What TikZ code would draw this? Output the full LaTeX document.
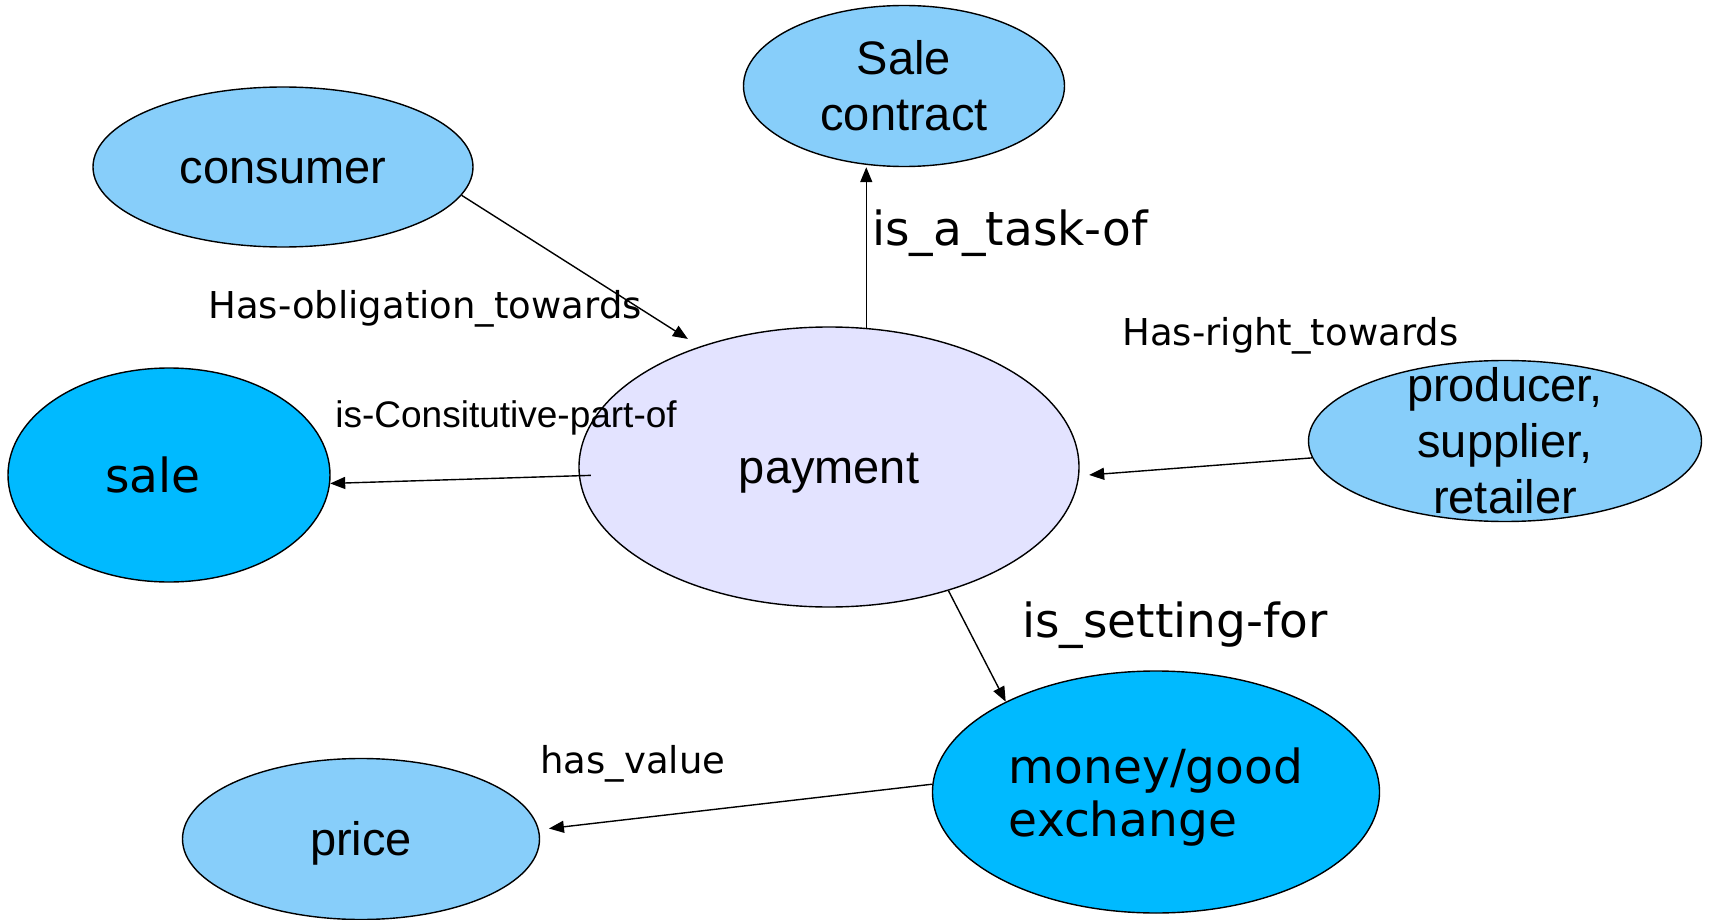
\documentclass[tikz,border=0pt]{standalone}
\usepackage{fontspec}
\setmainfont{Liberation Sans}
\newfontfamily\dejavu{DejaVu Sans}
\usetikzlibrary{arrows.meta,shapes.geometric}

\definecolor{entlight}{HTML}{87CEFA}
\definecolor{entdark}{HTML}{00BAFF}
\definecolor{entpay}{HTML}{E3E3FF}

\begin{document}
\begin{tikzpicture}[x=0.5pt, y=-0.5pt,
  ent/.style={ellipse, draw, line width=0.7pt, inner sep=0pt, align=center, font=\fontsize{23.5}{28}\selectfont},
  oneline/.style={text height=21.3pt, text depth=5pt},
  rel/.style={anchor=base west, inner sep=0pt, font=\dejavu\fontsize{18.5}{22}\selectfont},
  arr/.style={-{Triangle[length=7.5pt,width=6pt]}, line width=0.7pt}]
\useasboundingbox (0,0) rectangle (1710,920);

\node[ent, fill=entlight, minimum width=160.5pt, minimum height=80.5pt] (contract) at (904,86) {Sale\\contract};
\node[ent, oneline, fill=entlight, minimum width=190pt, minimum height=80pt] (consumer) at (283,167) {consumer};
\node[ent, fill=entdark, minimum width=161pt, minimum height=107pt, text width=64pt, align=left, font=\dejavu\fontsize{23.5}{28}\selectfont] (sale) at (169,475) {sale};
\node[ent, oneline, fill=entpay, minimum width=250pt, minimum height=140pt] (payment) at (829,467) {payment};
\node[ent, fill=entlight, minimum width=196.5pt, minimum height=80.5pt, inner ysep=-9pt] (producer) at (1505,441) {producer,\\supplier,\\retailer};
\node[ent, fill=entdark, minimum width=223.5pt, minimum height=121pt, text depth=0pt, align=left, font=\dejavu\fontsize{23.5}{26.5}\selectfont] (exchange) at (1156,792) {money/good\\exchange};
\node[ent, oneline, fill=entlight, minimum width=178.5pt, minimum height=80.5pt] (price) at (361,839) {price};

\node[rel] (lobl) at (208,318) {Has-obligation\_towards};
\node[rel, font=\fontsize{18.5}{22}\selectfont] (lcons) at (335,427) {is-Consitutive-part-of};
\node[rel, font=\dejavu\fontsize{23.5}{28}\selectfont] (ltask) at (872,245) {is\_a\_task-of};
\node[rel] (lright) at (1122,345) {Has-right\_towards};
\node[rel, font=\dejavu\fontsize{23.5}{28}\selectfont] (lset) at (1022,637) {is\_setting-for};
\node[rel] (lval) at (540,773) {has\_value};

\draw[arr, shorten >=7pt] (consumer.-9) -- (payment.137);
\draw[arr] (payment.75) -- (payment.75 |- contract.south);
\draw[arr, shorten <=-6pt] (payment.-178) -- (sale.-3);
\draw[arr, shorten >=5pt] (producer.185) -- (payment.-2);
\draw[arr] (payment.-46) -- (exchange.149);
\draw[arr, shorten >=5pt] (exchange.178) -- (price.3);

\end{tikzpicture}
\end{document}
